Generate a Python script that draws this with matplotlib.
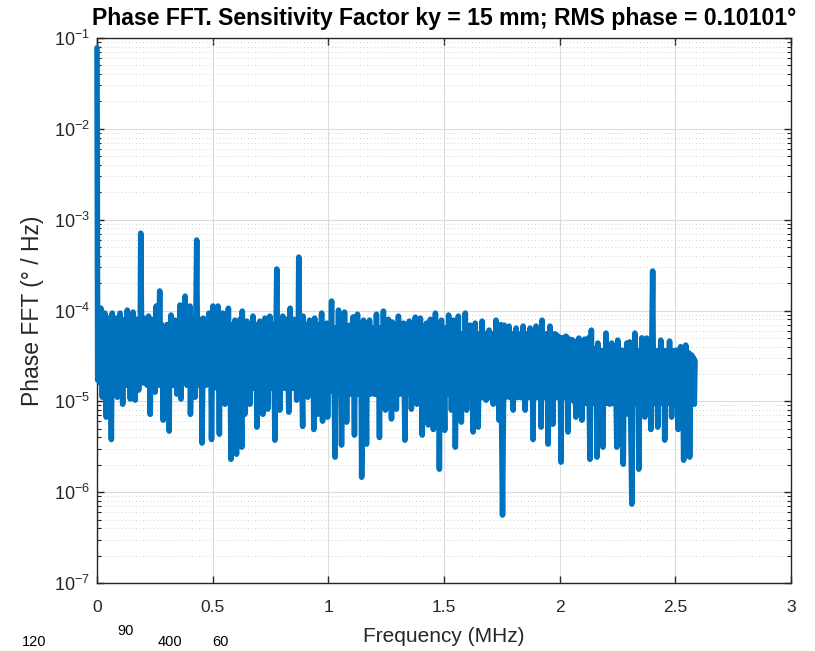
import numpy as np
import matplotlib
matplotlib.use('Agg')
import matplotlib.pyplot as plt
from matplotlib.ticker import FixedLocator, NullFormatter

# ---------------- data ----------------
# 0 - 0.5 MHz
freq_a = [
    0.000, 0.003, 0.008, 0.012, 0.017, 0.023, 0.027, 0.030, 0.034, 0.040,
    0.044, 0.047, 0.051, 0.055, 0.058, 0.062, 0.066, 0.069, 0.072, 0.075,
    0.078, 0.080, 0.083, 0.088, 0.092, 0.096, 0.100, 0.104, 0.107, 0.111,
    0.114, 0.117, 0.120, 0.126, 0.131, 0.135, 0.139, 0.144, 0.148, 0.152,
    0.156, 0.159, 0.162, 0.165, 0.172, 0.175, 0.177, 0.180, 0.183, 0.186,
    0.189, 0.195, 0.199, 0.203, 0.208, 0.211, 0.214, 0.217, 0.223, 0.230,
    0.235, 0.239, 0.243, 0.246, 0.248, 0.251, 0.256, 0.259, 0.261, 0.264,
    0.271, 0.276, 0.280, 0.286, 0.294, 0.299, 0.303, 0.306, 0.309, 0.312,
    0.315, 0.317, 0.320, 0.323, 0.326, 0.329, 0.332, 0.335, 0.338, 0.345,
    0.349, 0.353, 0.359, 0.363, 0.367, 0.371, 0.374, 0.378, 0.381, 0.384,
    0.386, 0.389, 0.393, 0.397, 0.402, 0.404, 0.408, 0.411, 0.415, 0.418,
    0.421, 0.424, 0.431, 0.435, 0.438, 0.441, 0.444, 0.447, 0.450, 0.454,
    0.460, 0.464, 0.467, 0.471, 0.475, 0.479, 0.484, 0.488, 0.491, 0.495,
]
val_a = [
    7.8e-2, 1.71e-5, 7.0e-5, 1.6e-5, 1.06e-4, 1.11e-5, 7.0e-5, 1.6e-5, 9.36e-5, 6.7e-6,
    7.0e-5, 1.6e-5, 8.24e-5, 1.6e-5, 7.0e-5, 3.8e-6, 9.36e-5, 1.6e-5, 7.0e-5, 1.6e-5,
    7.0e-5, 1.6e-5, 8.24e-5, 1.11e-5, 7.0e-5, 1.6e-5, 9.36e-5, 1.6e-5, 7.0e-5, 9.3e-6,
    7.0e-5, 1.6e-5, 8.0e-5, 1.5e-5, 1.01e-4, 1.6e-5, 7.0e-5, 1.06e-5, 7.0e-5, 1.6e-5,
    9.6e-5, 1.6e-5, 7.0e-5, 1.03e-5, 8.0e-5, 1.6e-5, 7.0e-5, 1.33e-5, 7.0e-5, 1.6e-5,
    7.1e-4, 1.6e-5, 7.0e-5, 1.6e-5, 8.2e-5, 1.6e-5, 7.0e-5, 1.5e-5, 8.67e-5, 7.2e-6,
    7.0e-5, 1.6e-5, 8.0e-5, 1.6e-5, 7.0e-5, 1.26e-5, 1.12e-4, 1.6e-5, 7.0e-5, 1.5e-5,
    1.64e-4, 1.6e-5, 7.0e-5, 6.2e-6, 6.08e-5, 1.6e-5, 7.0e-5, 1.6e-5, 7.0e-5, 4.7e-6,
    7.0e-5, 1.6e-5, 8.9e-5, 1.6e-5, 7.0e-5, 1.5e-5, 7.0e-5, 1.6e-5, 7.83e-5, 1.2e-5,
    7.0e-5, 1.6e-5, 1.15e-4, 1.06e-5, 7.0e-5, 1.6e-5, 7.0e-5, 1.6e-5, 1.44e-4, 1.6e-5,
    7.0e-5, 1.5e-5, 7.0e-5, 1.6e-5, 1.12e-4, 7.2e-6, 7.0e-5, 1.6e-5, 8.0e-5, 1.6e-5,
    7.0e-5, 1.11e-5, 5.96e-4, 1.6e-5, 7.0e-5, 1.5e-5, 7.0e-5, 1.6e-5, 8.0e-5, 3.47e-6,
    8.24e-5, 1.6e-5, 7.0e-5, 1.5e-5, 7.0e-5, 1.6e-5, 9.36e-5, 1.6e-5, 7.0e-5, 3.8e-6,
]

# 0.5 - 1.03 MHz
freq_b = [
    0.501, 0.505, 0.509, 0.514, 0.518, 0.520, 0.523, 0.529, 0.533, 0.537,
    0.540, 0.542, 0.544, 0.548, 0.550, 0.553, 0.557, 0.562, 0.568, 0.572,
    0.575, 0.579, 0.583, 0.587, 0.591, 0.594, 0.596, 0.603, 0.607, 0.612,
    0.618, 0.626, 0.628, 0.633, 0.636, 0.639, 0.643, 0.645, 0.648, 0.652,
    0.656, 0.661, 0.665, 0.669, 0.674, 0.678, 0.682, 0.686, 0.688, 0.691,
    0.695, 0.699, 0.704, 0.708, 0.712, 0.717, 0.721, 0.723, 0.726, 0.731,
    0.734, 0.738, 0.742, 0.744, 0.747, 0.751, 0.755, 0.759, 0.763, 0.769,
    0.777, 0.781, 0.785, 0.790, 0.794, 0.798, 0.803, 0.808, 0.812, 0.816,
    0.822, 0.829, 0.835, 0.840, 0.843, 0.846, 0.851, 0.855, 0.859, 0.863,
    0.867, 0.869, 0.872, 0.877, 0.882, 0.889, 0.891, 0.896, 0.900, 0.904,
    0.907, 0.911, 0.919, 0.923, 0.927, 0.931, 0.934, 0.937, 0.941, 0.945,
    0.949, 0.954, 0.958, 0.963, 0.971, 0.975, 0.979, 0.983, 0.987, 0.990,
    0.993, 0.997, 1.002, 1.007, 1.014, 1.018, 1.022, 1.029,
]
val_b = [
    1.12e-4, 1.4e-5, 7.0e-5, 1.5e-5, 7.0e-5, 1.4e-5, 1.12e-4, 4.35e-6, 7.0e-5, 1.4e-5,
    7.0e-5, 1.4e-5, 9.36e-5, 1.4e-5, 7.0e-5, 9.3e-6, 7.0e-5, 1.4e-5, 1.06e-4, 1.4e-5,
    7.0e-5, 2.3e-6, 7.0e-5, 1.4e-5, 7.0e-5, 1.4e-5, 7.83e-5, 2.62e-6, 7.0e-5, 1.4e-5,
    8.0e-5, 3.13e-6, 9.85e-5, 1.4e-5, 7.0e-5, 7.2e-6, 7.0e-5, 1.4e-5, 7.64e-5, 1.4e-5,
    7.0e-5, 9.3e-6, 7.0e-5, 1.4e-5, 8.67e-5, 1.4e-5, 7.0e-5, 1.4e-5, 7.0e-5, 5.2e-6,
    7.0e-5, 1.4e-5, 7.64e-5, 1.4e-5, 7.0e-5, 7.2e-6, 7.0e-5, 1.4e-5, 8.24e-5, 1.4e-5,
    7.0e-5, 8.2e-6, 7.0e-5, 1.4e-5, 8.67e-5, 1.4e-5, 7.0e-5, 1.4e-5, 7.0e-5, 3.74e-6,
    2.86e-4, 1.4e-5, 7.0e-5, 8.0e-6, 7.0e-5, 1.4e-5, 8.67e-5, 1.4e-5, 7.0e-5, 1.4e-5,
    8.0e-5, 7.6e-6, 1.06e-4, 1.4e-5, 7.0e-5, 1.4e-5, 8.0e-5, 1.4e-5, 7.0e-5, 1.03e-5,
    7.0e-5, 1.4e-5, 3.87e-4, 1.4e-5, 7.0e-5, 5.3e-6, 8.67e-5, 1.4e-5, 7.0e-5, 1.4e-5,
    7.0e-5, 1.11e-5, 7.83e-5, 1.4e-5, 7.0e-5, 1.4e-5, 7.0e-5, 4.9e-6, 8.24e-5, 1.4e-5,
    7.0e-5, 7.2e-6, 7.0e-5, 1.4e-5, 9.36e-5, 6.05e-6, 7.0e-5, 1.4e-5, 7.0e-5, 1.4e-5,
    7.26e-5, 6.7e-6, 7.0e-5, 1.4e-5, 1.27e-4, 1.3e-5, 6.4e-5, 2.43e-6,
]

# 1.03 - 1.55 MHz
freq_c = [
    1.033, 1.037, 1.044, 1.049, 1.053, 1.057, 1.062, 1.066, 1.070, 1.074,
    1.076, 1.079, 1.083, 1.087, 1.092, 1.096, 1.098, 1.100, 1.107, 1.113,
    1.117, 1.121, 1.126, 1.130, 1.134, 1.138, 1.141, 1.144, 1.152, 1.156,
    1.160, 1.165, 1.169, 1.173, 1.178, 1.182, 1.186, 1.191, 1.195, 1.199,
    1.203, 1.205, 1.208, 1.212, 1.216, 1.221, 1.225, 1.229, 1.233, 1.235,
    1.238, 1.242, 1.244, 1.247, 1.251, 1.255, 1.260, 1.265, 1.269, 1.273,
    1.277, 1.281, 1.285, 1.289, 1.291, 1.294, 1.298, 1.300, 1.303, 1.308,
    1.312, 1.316, 1.320, 1.322, 1.325, 1.331, 1.335, 1.339, 1.343, 1.346,
    1.350, 1.354, 1.356, 1.359, 1.363, 1.367, 1.371, 1.373, 1.376, 1.379,
    1.381, 1.383, 1.387, 1.391, 1.398, 1.401, 1.403, 1.406, 1.410, 1.414,
    1.418, 1.421, 1.424, 1.427, 1.429, 1.432, 1.436, 1.438, 1.441, 1.445,
    1.449, 1.454, 1.458, 1.460, 1.463, 1.467, 1.471, 1.475, 1.477, 1.480,
    1.484, 1.486, 1.489, 1.493, 1.497, 1.503, 1.507, 1.511, 1.515, 1.517,
    1.520, 1.524, 1.528, 1.532, 1.536, 1.538, 1.540, 1.544, 1.546, 1.549,
]
val_c = [
    6.4e-5, 1.2e-5, 1.01e-4, 1.2e-5, 6.4e-5, 3.3e-6, 6.4e-5, 1.2e-5, 9.6e-5, 1.2e-5,
    6.4e-5, 5.9e-6, 6.4e-5, 1.2e-5, 6.9e-5, 1.2e-5, 6.4e-5, 1.3e-5, 8.5e-5, 4.25e-6,
    6.4e-5, 1.2e-5, 9.1e-5, 1.2e-5, 6.4e-5, 1.2e-5, 6.4e-5, 1.46e-6, 7.83e-5, 1.2e-5,
    6.4e-5, 3.38e-6, 6.4e-5, 1.2e-5, 7.83e-5, 1.2e-5, 6.4e-5, 1.3e-5, 6.4e-5, 1.2e-5,
    6.4e-5, 1.2e-5, 9.1e-5, 1.2e-5, 6.4e-5, 4.0e-6, 6.4e-5, 1.2e-5, 6.4e-5, 1.2e-5,
    9.85e-5, 1.2e-5, 6.4e-5, 8.0e-6, 6.4e-5, 1.2e-5, 8.0e-5, 1.2e-5, 6.4e-5, 6.4e-6,
    7.45e-5, 1.2e-5, 6.4e-5, 1.2e-5, 6.4e-5, 8.2e-6, 6.4e-5, 1.2e-5, 8.67e-5, 1.2e-5,
    6.4e-5, 1.3e-5, 6.4e-5, 1.2e-5, 7.26e-5, 3.74e-6, 6.4e-5, 1.2e-5, 6.4e-5, 1.2e-5,
    7.64e-5, 1.2e-5, 6.4e-5, 8.2e-6, 6.4e-5, 1.2e-5, 6.4e-5, 1.2e-5, 8.45e-5, 1.2e-5,
    6.4e-5, 9.3e-6, 6.4e-5, 1.2e-5, 8.24e-5, 1.2e-5, 6.4e-5, 4.25e-6, 6.4e-5, 1.2e-5,
    6.4e-5, 1.2e-5, 7.26e-5, 1.2e-5, 6.4e-5, 5.5e-6, 6.4e-5, 1.2e-5, 8.0e-5, 1.2e-5,
    6.4e-5, 4.9e-6, 6.4e-5, 1.2e-5, 9.36e-5, 1.2e-5, 6.4e-5, 1.2e-5, 6.4e-5, 1.79e-6,
    6.4e-5, 1.2e-5, 7.83e-5, 1.2e-5, 6.4e-5, 4.8e-6, 6.4e-5, 1.2e-5, 6.4e-5, 1.2e-5,
    8.9e-5, 1.2e-5, 6.4e-5, 8.0e-6, 6.4e-5, 1.2e-5, 7.83e-5, 1.2e-5, 6.4e-5, 3.13e-6,
]

# 1.55 - 2.07 MHz
freq_d = [
    1.554, 1.558, 1.562, 1.566, 1.570, 1.575, 1.579, 1.583, 1.587, 1.589,
    1.592, 1.598, 1.603, 1.607, 1.613, 1.617, 1.621, 1.626, 1.630, 1.632,
    1.635, 1.639, 1.643, 1.648, 1.652, 1.656, 1.660, 1.662, 1.665, 1.669,
    1.673, 1.677, 1.679, 1.682, 1.686, 1.690, 1.695, 1.699, 1.703, 1.707,
    1.710, 1.713, 1.717, 1.721, 1.725, 1.729, 1.733, 1.738, 1.745, 1.753,
    1.760, 1.764, 1.768, 1.773, 1.781, 1.785, 1.789, 1.793, 1.796, 1.799,
    1.803, 1.807, 1.812, 1.816, 1.820, 1.825, 1.829, 1.833, 1.837, 1.839,
    1.842, 1.846, 1.848, 1.851, 1.855, 1.859, 1.863, 1.867, 1.872, 1.876,
    1.880, 1.885, 1.889, 1.893, 1.898, 1.902, 1.906, 1.910, 1.914, 1.920,
    1.924, 1.928, 1.932, 1.936, 1.940, 1.944, 1.947, 1.950, 1.958, 1.962,
    1.966, 1.971, 1.975, 1.979, 1.983, 1.987, 1.993, 1.997, 2.001, 2.006,
    2.010, 2.014, 2.018, 2.022, 2.027, 2.031, 2.033, 2.036, 2.040, 2.044,
    2.048, 2.052, 2.057, 2.061, 2.065, 2.070,
]
val_d = [
    5.5e-5, 1.1e-5, 8.67e-5, 1.1e-5, 5.5e-5, 5.9e-6, 5.5e-5, 1.1e-5, 5.5e-5, 1.1e-5,
    9.36e-5, 8.0e-6, 5.5e-5, 1.1e-5, 6.9e-5, 1.1e-5, 5.5e-5, 4.6e-6, 5.5e-5, 1.1e-5,
    7.26e-5, 1.1e-5, 5.5e-5, 5.2e-6, 5.5e-5, 1.1e-5, 5.5e-5, 1.1e-5, 7.64e-5, 1.1e-5,
    5.5e-5, 1.1e-5, 5.5e-5, 1.03e-5, 5.5e-5, 1.1e-5, 6.08e-5, 1.1e-5, 5.5e-5, 1.1e-5,
    5.5e-5, 9.3e-6, 5.5e-5, 1.1e-5, 7.83e-5, 1.1e-5, 5.5e-5, 6.2e-6, 7.0e-5, 5.6e-7,
    6.9e-5, 1.1e-5, 5.5e-5, 1.3e-5, 6.73e-5, 1.1e-5, 5.5e-5, 1.1e-5, 5.5e-5, 8.0e-6,
    5.5e-5, 1.1e-5, 6.4e-5, 1.1e-5, 5.5e-5, 1.2e-5, 5.5e-5, 1.1e-5, 5.5e-5, 1.1e-5,
    6.73e-5, 1.1e-5, 5.5e-5, 8.0e-6, 5.5e-5, 1.1e-5, 5.5e-5, 1.1e-5, 6.4e-5, 1.1e-5,
    5.5e-5, 3.8e-6, 5.5e-5, 1.1e-5, 6.73e-5, 1.1e-5, 5.5e-5, 1.1e-5, 5.5e-5, 5.2e-6,
    7.83e-5, 1.1e-5, 5.5e-5, 1.1e-5, 5.5e-5, 1.1e-5, 5.5e-5, 3.38e-6, 6.73e-5, 1.1e-5,
    5.5e-5, 5.6e-6, 5.5e-5, 1.1e-5, 5.5e-5, 1.1e-5, 5.22e-5, 1.1e-5, 5.0e-5, 2.14e-6,
    5.0e-5, 1.1e-5, 5.0e-5, 1.1e-5, 5.22e-5, 1.1e-5, 5.0e-5, 4.6e-6, 4.8e-5, 1.1e-5,
    4.8e-5, 1.1e-5, 4.72e-5, 1.0e-5, 4.5e-5, 6.7e-6,
]

# 2.07 - 2.585 MHz
freq_e = [
    2.074, 2.078, 2.083, 2.087, 2.091, 2.096, 2.100, 2.104, 2.107, 2.112,
    2.115, 2.118, 2.124, 2.131, 2.137, 2.141, 2.145, 2.149, 2.153, 2.157,
    2.159, 2.161, 2.165, 2.169, 2.173, 2.177, 2.181, 2.187, 2.191, 2.195,
    2.200, 2.204, 2.208, 2.212, 2.214, 2.217, 2.225, 2.229, 2.233, 2.237,
    2.241, 2.247, 2.251, 2.255, 2.257, 2.260, 2.268, 2.275, 2.279, 2.283,
    2.290, 2.297, 2.303, 2.312, 2.317, 2.321, 2.325, 2.329, 2.333, 2.337,
    2.339, 2.342, 2.346, 2.350, 2.355, 2.359, 2.363, 2.368, 2.376, 2.380,
    2.384, 2.388, 2.391, 2.394, 2.402, 2.406, 2.410, 2.414, 2.418, 2.424,
    2.428, 2.432, 2.437, 2.441, 2.445, 2.449, 2.451, 2.454, 2.458, 2.462,
    2.466, 2.470, 2.475, 2.479, 2.481, 2.484, 2.488, 2.492, 2.496, 2.500,
    2.506, 2.512, 2.516, 2.519, 2.523, 2.527, 2.531, 2.536, 2.540, 2.542,
    2.545, 2.549, 2.553, 2.557, 2.559, 2.562, 2.566, 2.568, 2.571, 2.575,
    2.579, 2.582, 2.585,
]
val_e = [
    4.0e-5, 9.5e-6, 4.97e-5, 9.5e-6, 3.8e-5, 6.2e-6, 3.8e-5, 9.5e-6, 4.84e-5, 9.5e-6,
    3.8e-5, 1.1e-5, 5.0e-5, 2.3e-6, 6.08e-5, 9.5e-6, 3.8e-5, 9.5e-6, 3.8e-5, 9.5e-6,
    3.8e-5, 2.43e-6, 4.38e-5, 9.5e-6, 3.6e-5, 9.5e-6, 3.6e-5, 3.13e-6, 3.6e-5, 9.5e-6,
    5.64e-5, 9.5e-6, 3.6e-5, 9.5e-6, 3.6e-5, 9.3e-6, 4.38e-5, 9.5e-6, 3.6e-5, 9.5e-6,
    3.6e-5, 3.13e-6, 4.72e-5, 9.5e-6, 3.6e-5, 1.0e-5, 3.66e-5, 2.03e-6, 3.6e-5, 9.5e-6,
    4.38e-5, 7.2e-6, 4.5e-5, 7.4e-7, 3.6e-5, 9.5e-6, 5.64e-5, 9.5e-6, 3.6e-5, 9.5e-6,
    3.6e-5, 1.79e-6, 3.6e-5, 9.5e-6, 5.0e-5, 9.5e-6, 3.6e-5, 6.7e-6, 4.97e-5, 9.5e-6,
    3.6e-5, 9.5e-6, 3.6e-5, 4.9e-6, 2.72e-4, 9.5e-6, 3.6e-5, 9.5e-6, 3.6e-5, 5.2e-6,
    3.6e-5, 9.5e-6, 4.72e-5, 9.5e-6, 3.6e-5, 9.5e-6, 3.6e-5, 3.74e-6, 3.6e-5, 9.5e-6,
    3.6e-5, 9.5e-6, 4.6e-5, 9.5e-6, 3.6e-5, 6.7e-6, 3.6e-5, 9.5e-6, 3.6e-5, 9.5e-6,
    3.66e-5, 4.9e-6, 3.6e-5, 9.5e-6, 4.0e-5, 9.5e-6, 3.6e-5, 2.25e-6, 3.4e-5, 9.5e-6,
    4.16e-5, 9.5e-6, 3.4e-5, 9.5e-6, 3.4e-5, 2.43e-6, 3.2e-5, 9.5e-6, 3.23e-5, 9.5e-6,
    3.0e-5, 9.3e-6, 2.8e-5,
]

title_text = 'Phase FFT. Sensitivity Factor ky = 15 mm; RMS phase = 0.10101\u00b0'
x_label = 'Frequency (MHz)'
y_label = 'Phase FFT (\u00b0 / Hz)'
x_ticks = [0, 0.5, 1, 1.5, 2, 2.5, 3]
x_ticklabels = ['0', '0.5', '1', '1.5', '2', '2.5', '3']
y_exponents = [-7, -6, -5, -4, -3, -2, -1]
stray_texts = ['90', '400', '120', '60']

freq_mhz = freq_a + freq_b + freq_c + freq_d + freq_e
phase_fft = val_a + val_b + val_c + val_d + val_e
n = min(len(freq_mhz), len(phase_fft))
freq_mhz, phase_fft = freq_mhz[:n], phase_fft[:n]

# ---------------- style ----------------
plt.rcParams['font.family'] = ['Liberation Sans', 'DejaVu Sans']
plt.rcParams['mathtext.fontset'] = 'custom'
plt.rcParams['mathtext.rm'] = 'Liberation Sans'
plt.rcParams['mathtext.it'] = 'Liberation Sans:italic'
plt.rcParams['mathtext.bf'] = 'Liberation Sans:bold'

W, H = 815, 651
fig = plt.figure(figsize=(W / 100, H / 100), dpi=100)
ax_l, ax_r, ax_t, ax_b = 97, 791, 38, 583
ax = fig.add_axes([ax_l / W, 1 - ax_b / H, (ax_r - ax_l) / W, (ax_b - ax_t) / H])

ax.semilogy(freq_mhz, phase_fft, color='#0072BD', lw=4.0,
            solid_joinstyle='round', solid_capstyle='round',
            clip_on=False, zorder=3)

ax.set_xlim(0, 3)
ax.set_ylim(1e-7, 1e-1)

ax.set_xticks(x_ticks)
ax.set_xticklabels(x_ticklabels)
yt = [10.0 ** e for e in y_exponents]
ax.yaxis.set_major_locator(FixedLocator(yt))
ax.set_yticklabels([r'$10^{%d}$' % e for e in y_exponents])
minor = [m * 10.0 ** e for e in y_exponents[:-1] for m in range(2, 10)]
ax.yaxis.set_minor_locator(FixedLocator(minor))
ax.yaxis.set_minor_formatter(NullFormatter())

spine_col = '#262626'
for s in ax.spines.values():
    s.set_color(spine_col)
    s.set_linewidth(1.0)
    s.set_zorder(2.5)

ax.tick_params(which='both', direction='in', top=True, right=True,
               colors=spine_col, labelcolor='#262626')
ax.tick_params(which='major', length=5, width=1.0)
ax.tick_params(axis='x', which='major', pad=12, labelsize=12.5)
ax.tick_params(axis='y', which='major', pad=5, labelsize=13)
ax.tick_params(which='minor', length=3, width=0.8)
ax.tick_params(axis='x', which='minor', length=0)

ax.grid(True, which='major', color='#dcdcdc', lw=0.8, ls='-', zorder=0)
ax.grid(True, axis='y', which='minor', color='#c4c4c4', lw=0.6, ls=(0, (1, 3.2)), zorder=0)
ax.set_axisbelow(True)

ax.set_title(title_text, fontsize=16.6, fontweight='bold', color='black', pad=9)
ax.set_xlabel(x_label, fontsize=15, color='#262626', labelpad=9)
ax.set_ylabel(y_label, fontsize=16.5, color='#262626', labelpad=7)

# stray leftover labels at the bottom edge of the figure
fig.text(126 / W, 1 - 631 / H, stray_texts[0], ha='center', va='center', fontsize=10.5)
fig.text(170 / W, 1 - 642 / H, stray_texts[1], ha='center', va='center', fontsize=10.5)
fig.text(34 / W, 2 / H, stray_texts[2], ha='center', va='bottom', fontsize=10.5)
fig.text(220 / W, 2 / H, stray_texts[3], ha='center', va='bottom', fontsize=10.5)

fig.savefig('out.png', dpi=100, facecolor='white')
